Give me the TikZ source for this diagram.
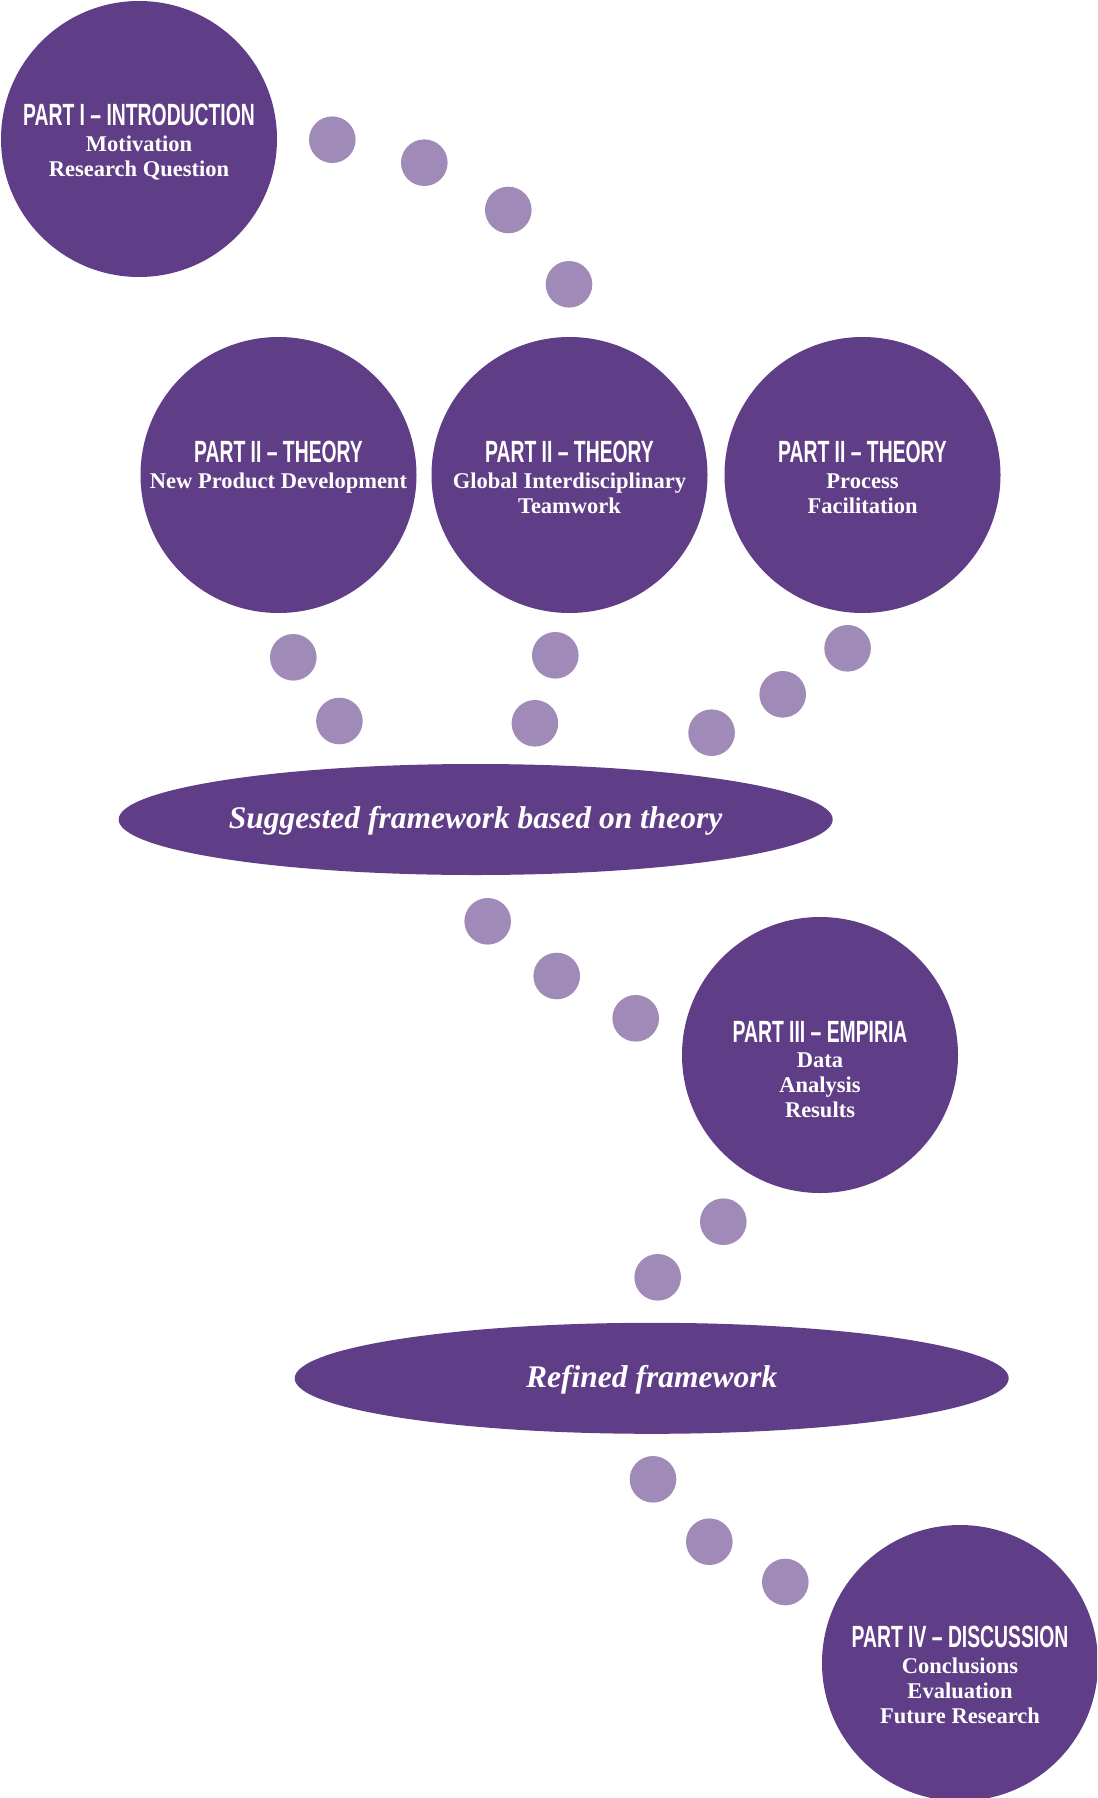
\documentclass[tikz,border=0pt]{standalone}
\usepackage{fontspec}
\usetikzlibrary{shapes.geometric}
\newfontfamily\headfont[FakeStretch=0.63]{Liberation Sans}
\newfontfamily\bodyfont{Liberation Serif}
\definecolor{dpurple}{RGB}{96,62,135}
\definecolor{lpurple}{RGB}{160,138,184}
\begin{document}
\begin{tikzpicture}[x=1pt,y=-1pt,
  bigc/.style={circle,fill=dpurple,minimum size=276pt,inner sep=0pt},
  dotc/.style={circle,fill=lpurple,minimum size=46.6pt,inner sep=0pt},
  oval/.style={ellipse,fill=dpurple,minimum width=714pt,minimum height=111pt,inner sep=0pt},
  head/.style={anchor=base,text=white,inner sep=0pt,font=\headfont\bfseries\fontsize{30.7}{30.7}\selectfont},
  sub/.style={anchor=base,text=white,inner sep=0pt,font=\bodyfont\bfseries\fontsize{22.5}{25}\selectfont},
  ital/.style={anchor=base,text=white,inner sep=0pt,font=\bodyfont\bfseries\itshape\fontsize{31.5}{31.5}\selectfont}]
\useasboundingbox (0,0) rectangle (1097,1798);
\fill[white] (0,0) rectangle (1097,1798);
\clip (0,0) rectangle (1097,1798);
% dots
\node[dotc] (d1) at (332.3,139.7) {};
\node[dotc] (d2) at (424.3,162.7) {};
\node[dotc] (d3) at (508.3,210) {};
\node[dotc] (d4) at (569,284.3) {};
\node[dotc] (t1a) at (293.3,657.3) {};
\node[dotc] (t1b) at (339.4,721) {};
\node[dotc] (t2a) at (555.3,655.3) {};
\node[dotc] (t2b) at (534.9,723.3) {};
\node[dotc] (t3a) at (847.6,648.3) {};
\node[dotc] (t3b) at (782.7,694.3) {};
\node[dotc] (t3c) at (711.6,732.7) {};
\node[dotc] (e1) at (487.7,921.3) {};
\node[dotc] (e2) at (556.7,976) {};
\node[dotc] (e3) at (635.7,1018.3) {};
\node[dotc] (m1) at (723.3,1221.7) {};
\node[dotc] (m2) at (657.7,1277.3) {};
\node[dotc] (f1) at (653,1479.3) {};
\node[dotc] (f2) at (709.3,1541.7) {};
\node[dotc] (f3) at (785.3,1582) {};
% Part I
\node[bigc] (p1) at (139,139) {};
\node[head] (p1h) at (139,126) {PART I – INTRODUCTION};
\node[sub] (p1a) at (139,152) {Motivation};
\node[sub] (p1b) at (139,177) {Research Question};
% Part II
\node[bigc] (p2a) at (278.5,475) {};
\node[head] (p2ah) at (278.5,462) {PART II – THEORY};
\node[sub] (p2a1) at (278.5,488) {New Product Development};
\node[bigc] (p2b) at (569.5,475) {};
\node[head] (p2bh) at (569.5,462) {PART II – THEORY};
\node[sub] (p2b1) at (569.5,488) {Global Interdisciplinary};
\node[sub] (p2b2) at (569.5,513) {Teamwork};
\node[bigc] (p2c) at (862.5,475) {};
\node[head] (p2ch) at (862.5,462) {PART II – THEORY};
\node[sub] (p2c1) at (862.5,488) {Process};
\node[sub] (p2c2) at (862.5,513) {Facilitation};
% framework 1
\node[oval] (fw1) at (475.7,819.5) {};
\node[ital] (fw1t) at (475.7,828.5) {Suggested framework based on theory};
% Part III
\node[bigc] (p3) at (820,1055) {};
\node[head] (p3h) at (820,1042) {PART III – EMPIRIA};
\node[sub] (p31) at (820,1067) {Data};
\node[sub] (p32) at (820,1092) {Analysis};
\node[sub] (p33) at (820,1117) {Results};
% framework 2
\node[oval] (fw2) at (651.7,1378.3) {};
\node[ital] (fw2t) at (651.7,1387.3) {Refined framework};
% Part IV
\node[bigc] (p4) at (960,1663) {};
\node[head] (p4h) at (960,1647) {PART IV – DISCUSSION};
\node[sub] (p41) at (960,1673) {Conclusions};
\node[sub] (p42) at (960,1698) {Evaluation};
\node[sub] (p43) at (960,1723) {Future Research};
\end{tikzpicture}
\end{document}
